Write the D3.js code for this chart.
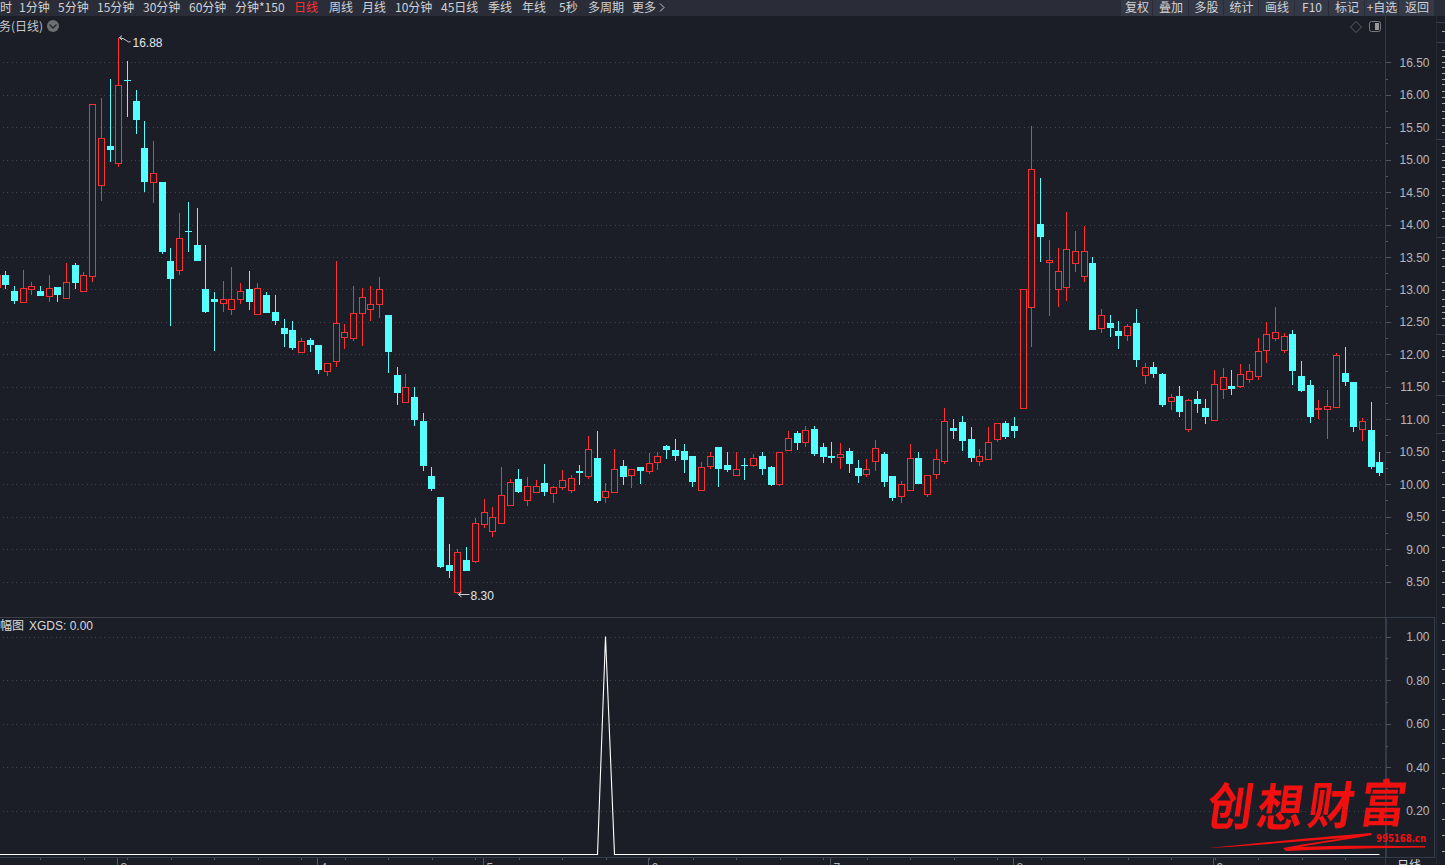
<!DOCTYPE html>
<html><head><meta charset="utf-8">
<script src="https://cdn.jsdelivr.net/npm/d3@7/dist/d3.min.js"></script>
<style>html,body{margin:0;padding:0;background:#1b1e27;overflow:hidden}svg{display:block}</style>
</head><body><svg id="c" width="1445" height="865"></svg>
<script>
const opens=[13.04,13.22,12.98,12.81,13.00,12.98,12.90,13.04,12.87,13.38,12.97,13.20,14.60,15.21,14.95,16.23,15.90,15.18,14.65,14.66,13.44,13.30,13.90,13.69,13.01,12.85,12.80,12.70,12.84,13.01,12.63,12.91,12.65,12.41,12.38,12.03,12.22,12.14,11.73,11.90,12.27,12.24,12.64,12.70,12.77,12.61,11.68,11.26,11.34,10.97,10.13,9.80,8.75,8.33,8.83,8.82,9.38,9.28,9.41,9.67,10.08,9.76,9.88,10.02,9.85,9.95,9.91,10.20,10.13,10.40,9.79,9.88,10.28,10.13,10.26,10.19,10.35,10.59,10.53,10.51,10.43,9.91,10.27,10.57,10.30,10.13,10.30,10.29,10.43,10.26,9.99,10.52,10.79,10.65,10.85,10.57,10.43,10.41,10.51,10.25,10.15,10.35,10.46,10.13,9.81,9.91,10.40,9.85,10.15,10.37,10.87,10.96,10.70,10.36,10.39,10.69,10.94,10.90,11.16,12.72,14.01,13.42,13.00,13.04,13.40,13.20,13.41,12.40,12.48,12.36,12.29,12.48,11.67,11.81,11.70,11.29,11.36,10.85,11.31,11.17,10.99,11.47,11.51,11.50,11.61,11.66,12.06,12.24,12.06,12.31,11.67,11.53,11.17,11.15,11.19,11.71,11.57,10.84,10.83,10.34];
const closes=[13.22,13.06,12.82,13.02,13.05,12.91,13.02,12.91,13.11,13.11,13.22,15.85,15.33,15.15,16.15,16.21,15.60,14.66,14.79,13.58,13.16,13.80,13.89,13.45,12.65,12.81,12.86,12.85,12.97,12.81,13.03,12.64,12.51,12.31,12.11,12.20,12.14,11.76,11.86,12.48,12.34,12.63,12.88,12.77,13.00,12.04,11.40,11.49,10.99,10.28,9.93,8.72,8.66,8.95,8.66,9.40,9.57,9.50,9.84,10.03,9.88,9.97,9.97,9.88,9.95,10.06,10.10,10.17,10.54,9.73,9.89,10.23,10.11,10.23,10.20,10.32,10.44,10.53,10.43,10.37,10.03,10.27,10.43,10.23,10.23,10.23,10.28,10.40,10.23,9.99,10.49,10.71,10.63,10.83,10.46,10.42,10.40,10.46,10.31,10.13,10.23,10.55,10.03,9.79,10.00,10.40,10.00,10.14,10.38,10.98,10.82,10.66,10.40,10.43,10.65,10.94,10.73,10.83,13.00,14.85,13.81,13.45,13.28,13.62,13.59,13.59,12.38,12.60,12.41,12.28,12.43,11.91,11.80,11.70,11.22,11.35,11.11,11.29,11.23,11.03,11.54,11.65,11.47,11.69,11.74,12.05,12.31,12.34,12.28,11.74,11.44,11.03,11.18,11.20,11.99,11.57,10.87,10.97,10.26,10.17];
const highs=[13.27,13.28,13.05,13.30,13.11,13.05,13.22,13.04,13.41,13.41,13.27,15.85,15.95,16.24,16.88,16.52,16.07,15.60,15.29,14.66,13.64,14.18,14.35,14.25,13.69,12.96,13.13,13.35,13.10,13.28,13.10,12.96,12.91,12.54,12.51,12.25,12.25,12.14,11.86,13.44,12.47,13.05,13.02,13.05,13.19,12.61,11.81,11.70,11.50,11.10,10.26,9.80,9.08,9.00,9.03,9.48,9.77,9.65,10.26,10.08,10.23,10.11,10.06,10.31,9.97,10.22,10.14,10.29,10.74,10.82,10.02,10.54,10.37,10.23,10.26,10.48,10.50,10.60,10.70,10.62,10.43,10.34,10.50,10.57,10.50,10.50,10.40,10.46,10.50,10.28,10.49,10.82,10.82,10.90,10.90,10.63,10.65,10.63,10.56,10.37,10.39,10.68,10.50,10.13,10.05,10.62,10.50,10.14,10.54,11.17,11.00,11.05,10.88,10.54,10.88,10.94,10.97,11.03,13.00,15.52,14.72,13.76,13.64,14.19,13.90,13.98,13.50,12.70,12.61,12.51,12.47,12.70,11.87,11.88,11.71,11.39,11.51,11.31,11.44,11.31,11.76,11.79,11.76,11.85,11.85,12.25,12.50,12.73,12.33,12.38,11.90,11.61,11.30,11.45,12.02,12.11,11.57,11.02,11.27,10.50];
const lows=[12.99,13.01,12.78,12.81,12.91,12.90,12.81,12.81,12.87,13.01,12.97,13.11,14.36,14.96,14.89,15.66,15.40,14.50,14.33,13.55,12.44,13.22,13.58,13.45,12.64,12.05,12.65,12.61,12.78,12.68,12.63,12.64,12.45,12.11,12.07,12.03,12.04,11.70,11.67,11.81,12.08,12.21,12.13,12.51,12.56,11.71,11.22,11.26,10.90,10.20,9.89,8.71,8.55,8.30,8.66,8.79,9.32,9.19,9.41,9.67,9.86,9.66,9.86,9.82,9.71,9.91,9.86,9.99,10.08,9.71,9.71,9.86,9.99,9.94,10.00,10.16,10.22,10.39,10.36,10.17,9.96,9.91,10.23,9.96,10.19,10.13,10.06,10.26,10.14,9.97,9.97,10.52,10.53,10.57,10.43,10.33,10.33,10.23,10.17,10.02,10.11,10.20,9.96,9.74,9.71,9.91,10.00,9.80,10.08,10.31,10.70,10.51,10.34,10.28,10.37,10.65,10.70,10.71,11.16,12.12,13.42,12.59,12.73,12.82,13.27,13.11,12.38,12.33,12.27,12.08,12.21,11.81,11.54,11.64,11.19,11.14,11.03,10.80,11.10,10.93,10.99,11.31,11.37,11.48,11.56,11.61,11.87,12.21,12.02,11.53,11.42,10.94,11.00,10.70,11.19,11.51,10.80,10.67,10.23,10.13];
const xgds=[0,0,0,0,0,0,0,0,0,0,0,0,0,0,0,0,0,0,0,0,0,0,0,0,0,0,0,0,0,0,0,0,0,0,0,0,0,0,0,0,0,0,0,0,0,0,0,0,0,0,0,0,0,0,0,0,0,0,0,0,0,0,0,0,0,0,0,0,0,0,1,0,0,0,0,0,0,0,0,0,0,0,0,0,0,0,0,0,0,0,0,0,0,0,0,0,0,0,0,0,0,0,0,0,0,0,0,0,0,0,0,0,0,0,0,0,0,0,0,0,0,0,0,0,0,0,0,0,0,0,0,0,0,0,0,0,0,0,0,0,0,0,0,0,0,0,0,0,0,0,0,0,0,0,0,0,0,0,0,0];
const priceLabels=[16.5,16,15.5,15,14.5,14,13.5,13,12.5,12,11.5,11,10.5,10,9.5,9,8.5];
const subLabels=[1,0.8,0.6,0.4,0.2];
const monthLabels=["3","4","5","6","7","8","9"];
const monthIndex=[14,37,56,75,96,117,140];
const navLeft=["时","1分钟","5分钟","15分钟","30分钟","60分钟","分钟*150","日线","周线","月线","10分钟","45日线","季线","年线","5秒","多周期","更多"];
const navLeftPos=[0,19,58,97,143,189,235,294,329,362,395,441,488,522,559,588,632];
const navRight=["复权","叠加","多股","统计","画线","F10","标记","+自选","返回"];
const navEdges=[1121,1153,1189,1224,1259,1295,1329,1365,1399,1435];
const sideRules=[22,42,139,237,334,395,433];
const sideMarks=[31,50,56,62,67,73,79,84,91,97,103,111,118,125,132,146,153,160,167,174,181,188,195,203,211,218,226,243,250,258,266,282,290,299,306,312,318,325,343,350,356,372,381,404,412,425,440,451,460,472,484,497,510,522,535,547,560,571,582,594,607,623,640,654,669,683,699,714,729,743,758,773,788,803,819,835,851];

const SANS="'Liberation Sans',Arial,sans-serif",CJK="'Noto Sans CJK SC','Liberation Sans',sans-serif";
const UP="#ff3030",DOWN="#54ffff",TXT="#b4b7bd",AX="#333a4a",GRID="#42454d";
const svg=d3.select("#c");
const x=d3.scaleLinear().domain([0,159]).range([-2.997,1379.826]);
const px=i=>Math.floor(x(i))+0.5;
const y=d3.scaleLinear().domain([8.5,16.5]).range([581.5,62.3]);
const ySub=d3.scaleLinear().domain([0,1]).range([854.5,636.5]);

// chrome
svg.append("rect").attr("width",1445).attr("height",16).attr("fill","#2a2d38");
svg.selectAll(".nl").data(navLeft).join("text").attr("x",(d,i)=>navLeftPos[i]).attr("y",11.5)
  .attr("font-family",CJK).attr("font-size",12).attr("fill",(d)=>d==="日线"?"#ff3030":"#d0d2d6").text(d=>d);
svg.append("path").attr("d","M660 3.5l4 4-4 4").attr("fill","none").attr("stroke","#c9cbd0");
navRight.forEach((d,i)=>{
  svg.append("rect").attr("x",navEdges[i]).attr("y",0).attr("width",navEdges[i+1]-navEdges[i]-1).attr("height",16).attr("fill","#343948");
  svg.append("text").attr("x",(navEdges[i]+navEdges[i+1])/2).attr("y",11.5).attr("text-anchor","middle")
    .attr("font-family",CJK).attr("font-size",12).attr("fill","#d0d2d6").text(d);
});
svg.append("text").attr("x",-1).attr("y",31).attr("font-family",CJK).attr("font-size",12).attr("fill","#c4c6cb").text("务(日线)");
svg.append("circle").attr("cx",53).attr("cy",26).attr("r",6).attr("fill","#6e6f73");
svg.append("path").attr("d","M49.5 24.5l3.5 3.5 3.5-3.5").attr("fill","none").attr("stroke","#25272d").attr("stroke-width",1.4);
svg.append("path").attr("d","M1356 21.5l5.5 5.5-5.5 5.5-5.5-5.5z").attr("fill","none").attr("stroke","#5c5e63");
svg.append("rect").attr("x",1369.5).attr("y",21.5).attr("width",11).attr("height",10).attr("rx",2).attr("fill","none").attr("stroke","#77797d");
svg.append("rect").attr("x",1375).attr("y",23).attr("width",4).attr("height",7).attr("fill","#999");

// grids
const gMain=svg.append("g").attr("shape-rendering","crispEdges");
gMain.selectAll("line").data(priceLabels).join("line").attr("x1",3).attr("x2",1382).attr("y1",d=>Math.round(y(d))+.5).attr("y2",d=>Math.round(y(d))+.5)
  .attr("stroke",GRID).attr("stroke-dasharray","1 3.4");
const gSub=svg.append("g").attr("shape-rendering","crispEdges");
gSub.selectAll("line").data(subLabels).join("line").attr("x1",3).attr("x2",1382).attr("y1",d=>Math.round(ySub(d))+.5).attr("y2",d=>Math.round(ySub(d))+.5)
  .attr("stroke",GRID).attr("stroke-dasharray","1 3.4");

// panel dividers
svg.append("line").attr("x1",0).attr("x2",1385).attr("y1",617.5).attr("y2",617.5).attr("stroke","#3c3f47").attr("shape-rendering","crispEdges");
svg.append("line").attr("x1",1385.5).attr("x2",1385.5).attr("y1",16).attr("y2",865).attr("stroke",AX).attr("shape-rendering","crispEdges");
svg.append("line").attr("x1",1436.5).attr("x2",1436.5).attr("y1",16).attr("y2",865).attr("stroke","#262a34").attr("shape-rendering","crispEdges");
svg.append("rect").attr("x",1386.5).attr("y",617.5).attr("width",48).attr("height",240).attr("fill","none").attr("stroke",AX).attr("shape-rendering","crispEdges");
svg.append("line").attr("x1",0).attr("x2",1385).attr("y1",857.5).attr("y2",857.5).attr("stroke",AX).attr("shape-rendering","crispEdges");

// axes
const yAxis=d3.axisRight(y).tickValues(d3.range(8.5,16.51,0.25)).tickSize(0).tickFormat("");
const ya=svg.append("g").attr("transform","translate(1385.5,0)").call(yAxis);
ya.select(".domain").remove();
ya.selectAll(".tick line").attr("x2",d=>(d*2)%1===0?5:2.5).attr("stroke","#50555f").attr("shape-rendering","crispEdges");
svg.append("g").selectAll("text").data(priceLabels).join("text").attr("x",1429.5).attr("y",d=>y(d)+4.5).attr("text-anchor","end")
  .attr("font-family",SANS).attr("font-size",12).attr("fill",TXT).text(d=>d.toFixed(2));
const sa=svg.append("g").attr("transform","translate(1385.5,0)").call(d3.axisRight(ySub).tickValues(d3.range(0.1,1.01,0.1)).tickSize(0).tickFormat(""));
sa.select(".domain").remove();
sa.selectAll(".tick line").attr("x2",d=>Math.round(d*10)%2===0?5:2.5).attr("stroke","#50555f").attr("shape-rendering","crispEdges");
svg.append("g").selectAll("text").data(subLabels).join("text").attr("x",1429.5).attr("y",d=>ySub(d)+4.5).attr("text-anchor","end")
  .attr("font-family",SANS).attr("font-size",12).attr("fill",TXT).text(d=>d.toFixed(2));

// candles
const idx=d3.range(opens.length);
const isUp=i=>closes[i]>opens[i];
const candles=svg.append("g").attr("shape-rendering","crispEdges");
candles.selectAll(".w").data(idx).join("line").attr("x1",px).attr("x2",px)
  .attr("y1",i=>y(highs[i])).attr("y2",i=>y(lows[i])).attr("stroke",i=>isUp(i)?UP:DOWN);
candles.selectAll(".b").data(idx).join("rect")
  .attr("x",i=>px(i)-(isUp(i)?3:3.5)).attr("width",i=>isUp(i)?6:7)
  .attr("y",i=>Math.round(y(Math.max(opens[i],closes[i])))+(isUp(i)?.5:0))
  .attr("height",i=>Math.max(1,Math.round(Math.abs(y(opens[i])-y(closes[i])))))
  .attr("fill",i=>isUp(i)?"#1b1e27":DOWN).attr("stroke",i=>isUp(i)?UP:"none");

// extreme labels
const hi=d3.scan(highs,(a,b)=>b-a),lo=d3.scan(lows,(a,b)=>a-b);
{
  const xx=px(hi)+1,yy=y(highs[hi]);
  svg.append("path").attr("d",`M${xx} ${yy}l2.5-2M${xx} ${yy}l2.5 2.5M${xx} ${yy}q5 1 7 3t4 1`).attr("fill","none").attr("stroke","#e8e8e8").attr("stroke-width",.9);
  svg.append("text").attr("x",xx+13).attr("y",yy+9.5).attr("font-family",SANS).attr("font-size",12).attr("fill","#e4e5e7").text(highs[hi].toFixed(2));
}
{
  const xx=px(lo)+1,yy=y(lows[lo]);
  svg.append("path").attr("d",`M${xx} ${yy}l3-2.5M${xx} ${yy}l3 2.5M${xx} ${yy}h11`).attr("fill","none").attr("stroke","#e8e8e8").attr("stroke-width",.9);
  svg.append("text").attr("x",xx+12).attr("y",yy+5.5).attr("font-family",SANS).attr("font-size",12).attr("fill","#e4e5e7").text(lows[lo].toFixed(2));
}

// sub panel line
svg.append("path").datum(xgds).attr("fill","none").attr("stroke","#ffffff").attr("stroke-width",1.1)
  .attr("d",d3.line().x((d,i)=>px(i)).y(d=>ySub(d)));
svg.append("text").attr("x",0).attr("y",630).attr("font-family",CJK).attr("font-size",12).attr("fill","#d9dadd").text("幅图");
svg.append("text").attr("x",29).attr("y",630).attr("font-family",SANS).attr("font-size",12).attr("fill","#d9dadd").text("XGDS: 0.00");

// time axis
const gt=svg.append("g").attr("transform","translate(0,857.5)").call(d3.axisBottom(x).tickValues(d3.range(5,159,5)).tickSize(2).tickFormat(""));
gt.select(".domain").remove();gt.selectAll("line").attr("stroke","#50555f").attr("shape-rendering","crispEdges");
monthIndex.forEach((m,i)=>{
  const mx=Math.floor(x(m))-.5;
  svg.append("line").attr("x1",mx).attr("x2",mx).attr("y1",857.5).attr("y2",865).attr("stroke","#50555f").attr("shape-rendering","crispEdges");
  svg.append("text").attr("x",mx+3).attr("y",871.5).attr("font-family",SANS).attr("font-size",12).attr("fill",TXT).text(monthLabels[i]);
});
svg.append("text").attr("x",1397).attr("y",870).attr("font-family",CJK).attr("font-size",12).attr("fill","#d9dadd").text("日线");

// clipped side column
svg.append("g").attr("shape-rendering","crispEdges").selectAll("line").data(sideRules).join("line")
  .attr("x1",1437).attr("x2",1445).attr("y1",d=>d+.5).attr("y2",d=>d+.5).attr("stroke","#3a3e48");
svg.append("g").attr("shape-rendering","crispEdges").selectAll("line").data(sideMarks).join("line")
  .attr("x1",1442).attr("x2",1445).attr("y1",d=>d+.5).attr("y2",d=>d+.5).attr("stroke","#a8aab0");

// watermark
const wm=svg.append("g").attr("fill","#f01010");
const WM="创想财富".split(""),wmx=[1205,1255,1306,1358],wmy=[825,826,824,822];
WM.forEach((c,i)=>wm.append("text").attr("transform",`translate(${wmx[i]},${wmy[i]}) skewX(-8) scale(1,1.1)`).attr("font-family",CJK)
  .attr("font-weight",700).attr("font-size",46).text(c));
wm.append("path").attr("d","M1208 848C1260 843 1320 837 1371 833L1372 835C1345 840 1320 843 1300 847C1340 845 1390 846 1425 846L1425 847.5C1380 848 1330 849 1286 851L1283 848C1310 843 1330 840 1345 838C1300 841 1250 846 1208 848Z");
wm.append("text").attr("x",1376).attr("y",842).attr("font-family","'DejaVu Sans',sans-serif").attr("font-weight",700).attr("font-size",10).attr("textLength",50).attr("lengthAdjust","spacingAndGlyphs").text("995168.cn");
</script></body></html>
